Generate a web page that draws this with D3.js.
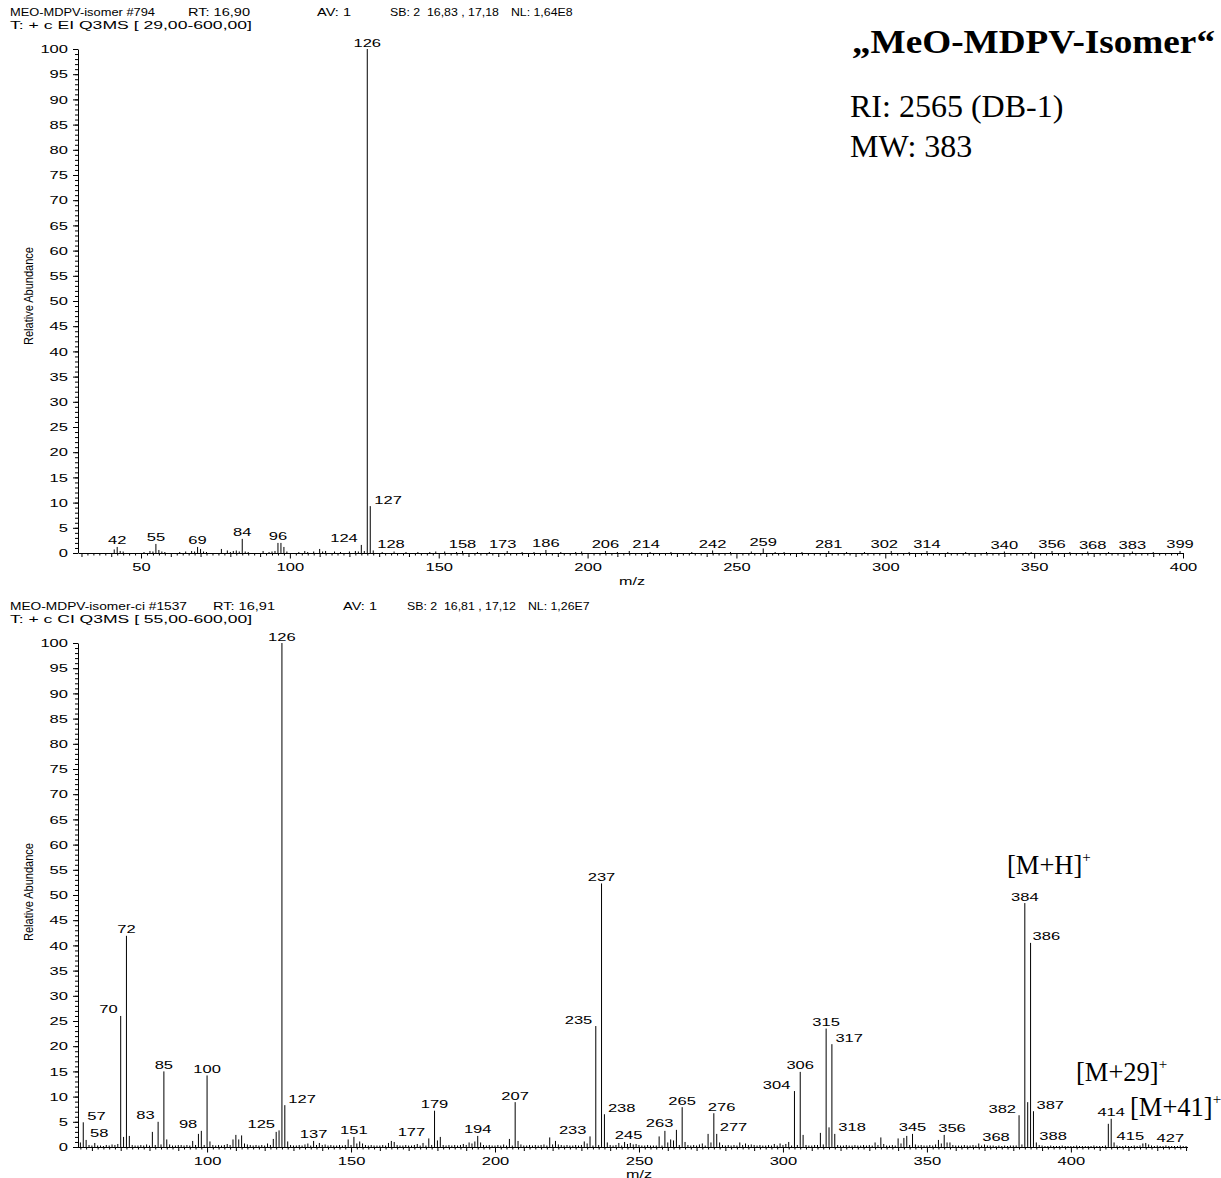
<!DOCTYPE html>
<html><head><meta charset="utf-8">
<script src="https://cdn.jsdelivr.net/npm/d3@7"></script>
<style>
html,body{margin:0;padding:0;background:#fff;}
svg{display:block;}
text{font-family:"Liberation Sans",Arial,sans-serif;fill:#000;}
.serif{font-family:"Liberation Serif","Times New Roman",serif;}
</style></head><body>
<svg id="chart" width="1221" height="1178"></svg>
<script>
// ---------- EI spectrum (top) ----------
const eiMz = [
  41,42,43,44,51,53,54,55,56,57,
  58,63,65,67,68,69,70,71,72,77,
  79,80,81,82,83,84,85,86,91,93,
  94,95,96,97,98,99,103,105,106,108,
  110,111,112,115,117,120,122,123,124,125,
  126,127,128,131,135,139,143,147,149,152,
  156,158,163,167,173,178,182,186,191,196,
  198,206,210,214,221,228,235,242,248,255,
  259,263,266,272,281,287,293,302,308,314,
  321,327,334,340,349,356,362,368,375,383,
  390,399];
const eiAbundance = [
  0.7,1.2,0.4,0.3,0.2,0.4,0.3,1.8,0.6,0.3,
  0.2,0.2,0.3,0.4,0.3,1.2,0.8,0.3,0.2,0.8,
  0.5,0.2,0.4,0.5,0.3,2.8,0.3,0.2,0.4,0.2,
  0.3,0.4,2.0,2.0,1.2,0.3,0.2,0.4,0.2,0.3,
  0.8,0.3,0.4,0.3,0.2,0.3,0.4,0.3,1.6,0.4,
  100,9.3,0.5,0.2,0.3,0.2,0.2,0.2,0.3,0.3,
  0.2,0.4,0.2,0.2,0.4,0.2,0.2,0.6,0.2,0.2,
  0.3,0.4,0.2,0.4,0.2,0.2,0.2,0.5,0.2,0.3,
  0.9,0.2,0.2,0.2,0.4,0.2,0.2,0.4,0.2,0.4,
  0.2,0.2,0.2,0.3,0.2,0.4,0.2,0.3,0.2,0.3,
  0.2,0.4];
const eiLabelMz = [42,55,69,84,96,124,126,127,128,158,173,186,206,214,242,259,281,302,314,340,356,368,383,399];
const eiXTicks = [50,100,150,200,250,300,350,400];

// ---------- CI spectrum (bottom) ----------
const ciMz = [
  56,57,58,59,60,61,62,63,64,65,
  66,67,68,69,70,71,72,73,74,75,
  76,77,78,79,80,81,82,83,84,85,
  86,87,88,89,90,91,92,93,94,95,
  96,97,98,99,100,101,102,103,104,105,
  106,107,108,109,110,111,112,113,114,115,
  116,117,118,119,120,121,122,123,124,125,
  126,127,128,129,130,131,132,133,134,135,
  136,137,138,139,140,141,142,143,144,145,
  146,147,148,149,150,151,152,153,154,155,
  156,157,158,159,160,161,162,163,164,165,
  166,167,168,169,170,171,172,173,174,175,
  176,177,178,179,180,181,182,183,184,185,
  186,187,188,189,190,191,192,193,194,195,
  196,197,198,199,200,201,202,203,204,205,
  206,207,208,209,210,211,212,213,214,215,
  216,217,218,219,220,221,222,223,224,225,
  226,227,228,229,230,231,232,233,234,235,
  236,237,238,239,240,241,242,243,244,245,
  246,247,248,249,250,251,252,253,254,255,
  256,257,258,259,260,261,262,263,264,265,
  266,267,268,269,270,271,272,273,274,275,
  276,277,278,279,280,281,282,283,284,285,
  286,287,288,289,290,291,292,293,294,295,
  296,297,298,299,300,301,302,303,304,305,
  306,307,308,309,310,311,312,313,314,315,
  316,317,318,319,320,321,322,323,324,325,
  326,327,328,329,330,331,332,333,334,335,
  336,337,338,339,340,341,342,343,344,345,
  346,347,348,349,350,351,352,353,354,355,
  356,357,358,359,360,361,362,363,364,365,
  366,367,368,369,370,371,372,373,374,375,
  376,377,378,379,380,381,382,383,384,385,
  386,387,388,389,390,391,392,393,394,395,
  396,397,398,399,400,401,402,403,404,405,
  406,407,408,409,410,411,412,413,414,415,
  416,417,418,419,420,421,422,423,424,425,
  426,427,428,429,430,431,432,433,434,435,
  436,437,438,439,440];
const ciAbundance = [
  0.9,4.9,1.4,0.4,0.3,0.8,0.3,0.3,0.2,0.4,
  0.3,0.5,0.4,0.6,26,2.0,41.9,2.2,0.4,0.3,
  0.3,0.4,0.3,0.5,0.3,3.0,0.4,5.0,0.5,15.0,
  1.5,0.5,0.3,0.3,0.4,0.4,0.3,0.4,0.3,1.2,
  0.4,2.6,3.2,0.4,14.2,1.1,0.4,0.3,0.4,0.3,
  0.4,0.6,0.4,1.5,2.4,1.5,2.3,0.7,0.5,0.4,
  0.3,0.4,0.3,0.4,0.3,0.7,0.4,1.6,3.0,3.3,
  100,8.3,1.1,0.4,0.3,0.3,0.4,0.3,0.5,0.7,
  0.3,1.2,0.4,0.8,0.4,0.5,0.3,0.4,0.3,0.3,
  0.4,0.3,0.4,1.5,0.4,2.0,0.7,1.1,0.7,0.4,
  0.3,0.4,0.3,0.3,0.3,0.4,0.3,0.8,1.2,1.0,
  0.4,0.3,0.3,0.4,0.3,0.3,0.4,0.6,0.3,0.8,
  0.3,1.7,0.4,7.2,1.3,2.0,0.4,0.3,0.4,0.3,
  0.4,0.3,0.4,0.6,0.4,0.9,0.7,1.1,2.2,0.9,
  0.4,0.3,0.4,0.3,0.3,0.4,0.3,0.5,0.3,1.6,
  0.3,8.9,1.2,0.5,0.3,0.3,0.4,0.3,0.4,0.3,
  0.4,0.5,0.3,1.9,0.5,1.2,0.5,0.4,0.3,0.4,
  0.3,0.3,0.4,0.3,0.4,1.1,0.7,2.1,0.3,24.0,
  0.4,52.3,6.5,0.9,0.4,0.3,0.4,0.8,0.3,1.0,
  0.6,0.8,0.5,0.6,0.4,0.3,0.3,0.4,0.3,0.3,
  0.3,2.1,0.3,3.2,0.9,1.5,1.3,3.4,0.4,7.9,
  1.0,0.4,0.3,0.4,0.3,0.5,0.7,0.3,2.6,0.9,
  6.7,2.6,0.9,0.4,0.3,0.4,0.3,0.4,0.3,0.9,
  0.4,0.7,0.4,0.5,0.4,0.3,0.4,0.3,0.3,0.4,
  0.3,0.6,0.3,0.7,0.4,0.6,1.0,0.3,11.1,0.4,
  14.9,2.4,0.4,0.3,0.3,0.4,0.4,2.8,0.5,23.5,
  3.9,20.4,2.6,0.4,0.3,0.3,0.4,0.3,0.3,0.4,
  0.3,0.3,0.4,0.3,0.4,0.3,0.9,0.4,1.9,0.6,
  0.3,0.3,0.4,0.3,1.7,0.7,1.8,2.2,0.4,2.6,
  0.5,0.3,0.4,0.3,0.3,0.4,0.3,0.5,1.4,0.7,
  2.4,0.9,0.9,0.4,0.3,0.3,0.3,0.4,0.3,0.3,
  0.4,0.3,0.7,0.3,0.5,0.3,0.3,0.3,0.2,0.3,
  0.2,0.3,0.2,0.3,0.3,0.3,6.3,0.5,48.4,8.9,
  40.5,7.1,0.9,0.4,0.3,0.2,0.2,0.3,0.2,0.2,
  0.2,0.3,0.2,0.2,0.2,0.2,0.3,0.2,0.2,0.2,
  0.2,0.2,0.3,0.2,0.2,0.2,0.3,4.6,5.6,0.9,
  0.3,0.2,0.2,0.3,0.2,0.2,0.3,0.2,0.3,0.7,
  0.8,0.5,0.3,0.2,0.3,0.2,0.2,0.3,0.2,0.2,
  0.2,0.2,0.3,0.2,0.2];
const ciLabelMz = [57,58,70,72,83,85,98,100,125,126,127,137,151,177,179,194,207,233,235,237,238,245,263,265,276,277,304,306,315,317,318,345,356,368,382,384,386,387,388,414,415,427];
const ciXTicks = [100,150,200,250,300,350,400];

const yTickLabels = [0,5,10,15,20,25,30,35,40,45,50,55,60,65,70,75,80,85,90,95,100];

// ---------- drawing ----------
const svg = d3.select("#chart");
svg.append("rect").attr("width",1221).attr("height",1178).attr("fill","#fff");

const DIGIT_W = 9.2;      // stretched digit width of the instrument font
const NUM_FS = 10.5;
const HDR_FS = 11;
const HDR_STRETCH = 1.12;

// label placement tweaks (anchor, dx) where the instrument shifted labels sideways
const eiPlace = {124:["end",-3.5],127:["start",4],128:["start",4],173:["middle",-4.5],
  214:["start",3],302:["middle",-7],368:["middle",5]};
const ciPlace = {57:["start",4],58:["start",4],70:["end",-3],83:["end",-3.5],98:["end",-4],
  125:["end",-4],127:["start",3.5],177:["end",-3.5],233:["end",-3.5],235:["end",-3.5],
  238:["start",3.5],245:["middle",4],263:["end",-3],276:["start",-6],277:["start",3],
  304:["end",-4],317:["start",3.5],318:["start",3.5],356:["start",-6],368:["start",3.5],
  382:["end",-3],386:["start",2],387:["start",3],388:["start",3],415:["start",2.5],427:["start",8]};

// header segments at instrument tab stops: [text, x or null (follow previous), width or null (natural*stretch)]
function header(segs, baseline){
  let cursor = 0;
  segs.forEach(([t,x0,w])=>{
    const tx = svg.append("text").attr("y",baseline)
      .attr("font-size",HDR_FS).style("white-space","pre").text(t);
    const width = (w === null) ? tx.node().getComputedTextLength()*HDR_STRETCH : w;
    const xs = (x0 === null) ? cursor + 12 : x0;
    tx.attr("x",xs).attr("textLength",width).attr("lengthAdjust","spacingAndGlyphs");
    cursor = xs + width;
  });
}

function drawPanel(p){
  const x = d3.scaleLinear().domain(p.domain).range(p.range);
  const y = d3.scaleLinear().domain([0,100]).range([p.y0,p.y100]);
  const g = svg.append("g");
  const data = p.mz.map((m,i)=>({mz:m, ab:p.ab[i]}));

  // sticks
  g.append("g").selectAll("line").data(data).join("line")
    .attr("x1",d=>x(d.mz)).attr("x2",d=>x(d.mz))
    .attr("y1",y(0)).attr("y2",d=>y(d.ab))
    .attr("stroke","#000").attr("stroke-width",1);

  // x axis: minor (2), medium (10), major (50)
  const lo = Math.ceil(p.domain[0]), hi = Math.floor(p.domain[1]);
  const all = d3.range(lo, hi+1);
  const minor = all.filter(v=>v%2===0 && v%10!==0);
  const medium = all.filter(v=>v%10===0 && v%50!==0);
  const xg = g.append("g").attr("transform",`translate(0,${y(0)})`);
  xg.append("g").call(d3.axisBottom(x).tickValues(minor).tickSize(2.5).tickSizeOuter(0).tickFormat(""))
    .call(s=>s.select(".domain").remove());
  xg.append("g").call(d3.axisBottom(x).tickValues(medium).tickSize(4).tickSizeOuter(0).tickFormat(""))
    .call(s=>s.select(".domain").remove());
  const maj = xg.append("g").call(d3.axisBottom(x).tickValues(p.majors).tickSize(5.5).tickSizeOuter(0));
  maj.attr("font-family",null);
  maj.selectAll("text").attr("y",p.xLabelDy).attr("dy",null).attr("font-size",NUM_FS)
    .attr("textLength",d=>String(d).length*DIGIT_W).attr("lengthAdjust","spacingAndGlyphs");
  xg.selectAll("line,path").attr("stroke","#000");

  // y axis
  const yg = g.append("g").attr("transform",`translate(78,0)`);
  yg.append("g").call(d3.axisLeft(y).tickValues(d3.range(0,101,1)).tickSize(3).tickSizeOuter(0).tickFormat(""))
    .call(s=>s.select(".domain").remove());
  const ym = yg.append("g").call(d3.axisLeft(y).tickValues(yTickLabels).tickSize(5).tickSizeOuter(0).tickPadding(5));
  ym.attr("font-family",null);
  ym.selectAll("text").attr("font-size",NUM_FS).attr("dy","0.36em")
    .attr("textLength",d=>String(d).length*DIGIT_W).attr("lengthAdjust","spacingAndGlyphs");
  yg.selectAll("line,path").attr("stroke","#000");

  // axis titles
  g.append("text").attr("x",p.mzLabel[0]).attr("y",p.mzLabel[1]).attr("text-anchor","middle")
    .attr("font-size",10.5).attr("textLength",26).attr("lengthAdjust","spacingAndGlyphs").text("m/z");
  g.append("text").attr("transform",`translate(33,${p.yLabelY}) rotate(-90)`)
    .attr("text-anchor","middle").attr("font-size",12)
    .attr("textLength",98).attr("lengthAdjust","spacingAndGlyphs").text("Relative Abundance");

  // peak labels
  const lab = data.filter(d=>p.labels.includes(d.mz));
  g.append("g").selectAll("text").data(lab).join("text")
    .attr("x",d=>x(d.mz)+(p.place[d.mz]?p.place[d.mz][1]:0))
    .attr("y",d=>y(d.ab)-2.5)
    .attr("text-anchor",d=>p.place[d.mz]?p.place[d.mz][0]:"middle")
    .attr("font-size",NUM_FS)
    .attr("textLength",d=>String(d.mz).length*DIGIT_W).attr("lengthAdjust","spacingAndGlyphs")
    .text(d=>d.mz);
}

header([["MEO-MDPV-isomer #794",10,145],["RT: 16,90",188,62],["AV: 1",317,34],
        ["SB: 2  16,83 , 17,18",390,null],["NL: 1,64E8",null,null]], 16);
header([["T: + c EI Q3MS [ 29,00-600,00]",10,242]], 29);
header([["MEO-MDPV-isomer-ci #1537",10,177],["RT: 16,91",213,62],["AV: 1",343,34],
        ["SB: 2  16,81 , 17,12",407,null],["NL: 1,26E7",null,null]], 610);
header([["T: + c CI Q3MS [ 55,00-600,00]",10,242]], 623);

drawPanel({mz:eiMz, ab:eiAbundance, labels:eiLabelMz, place:eiPlace,
  domain:[29,400], range:[78.5,1183], y0:553, y100:49, majors:eiXTicks,
  xLabelDy:17.5, mzLabel:[632,584.5], yLabelY:296});
drawPanel({mz:ciMz, ab:ciAbundance, labels:ciLabelMz, place:ciPlace,
  domain:[55,440.5], range:[77.5,1187.5], y0:1147, y100:643, majors:ciXTicks,
  xLabelDy:17.5, mzLabel:[639,1177.5], yLabelY:892});

// compound annotation
svg.append("text").attr("class","serif").attr("x",852).attr("y",53)
  .attr("font-size",34).attr("font-weight","bold")
  .attr("textLength",363).attr("lengthAdjust","spacingAndGlyphs")
  .text("\u201EMeO-MDPV-Isomer\u201C");
svg.append("text").attr("class","serif").attr("x",850).attr("y",117)
  .attr("font-size",32).text("RI: 2565 (DB-1)");
svg.append("text").attr("class","serif").attr("x",850).attr("y",157)
  .attr("font-size",32).text("MW: 383");

// ion annotations
function ion(t,x0,base){
  const tx = svg.append("text").attr("class","serif").attr("x",x0).attr("y",base).attr("font-size",26.5);
  tx.append("tspan").text(t);
  tx.append("tspan").attr("font-size",15).attr("dy",-12).text("+");
}
ion("[M+H]",1007,874);
ion("[M+29]",1076,1081);
ion("[M+41]",1130,1116);
</script>
</body></html>
